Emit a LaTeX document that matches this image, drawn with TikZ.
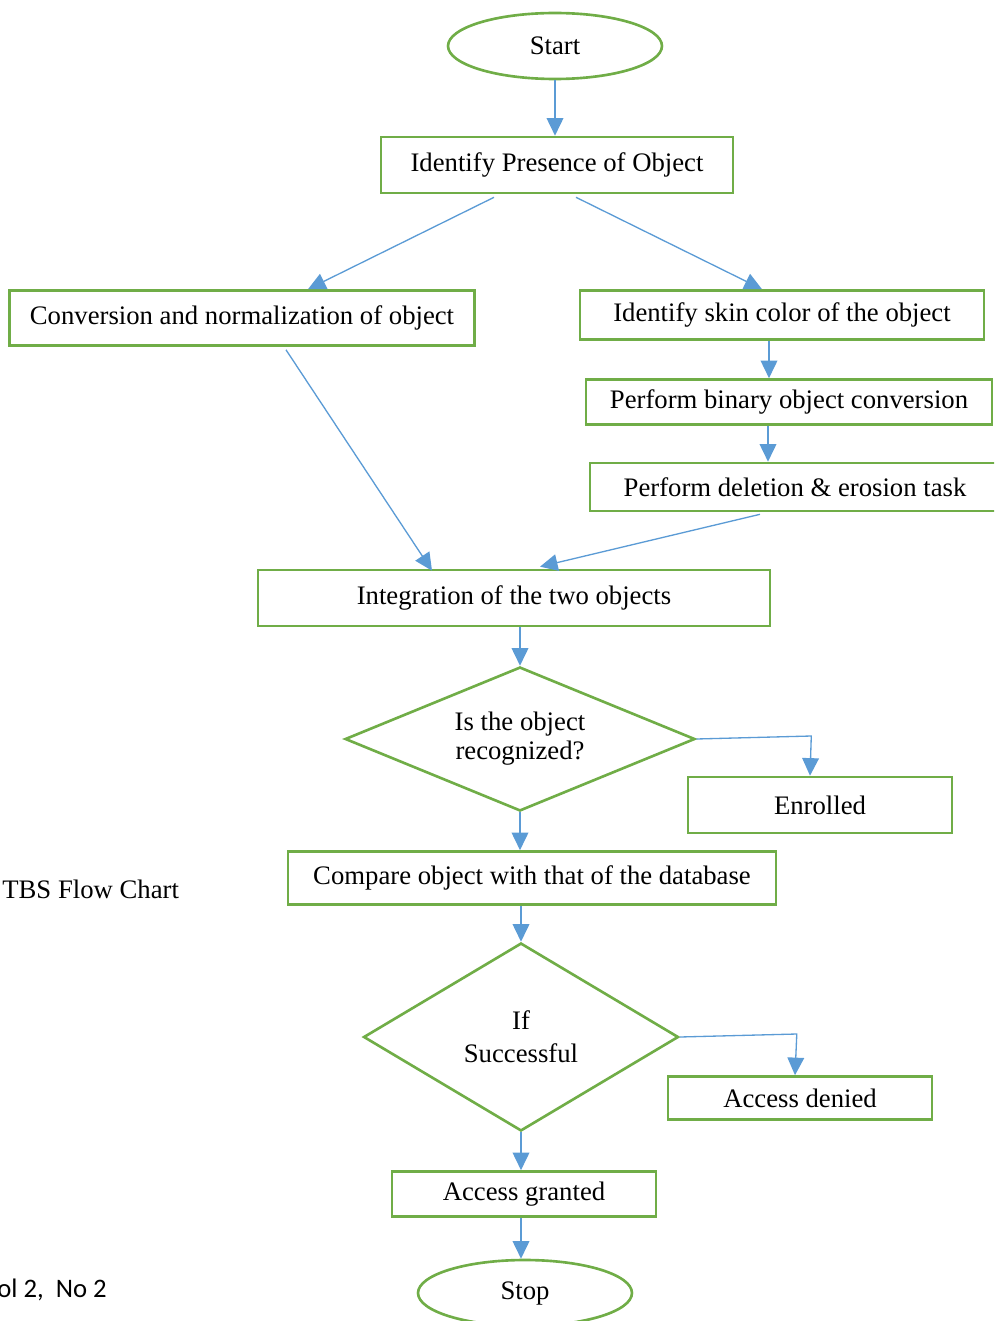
\documentclass[tikz,border=0pt]{standalone}
\usepackage{fontspec}
\setmainfont{Liberation Serif}
\newfontfamily\calibri{Carlito}
\usetikzlibrary{shapes.geometric,arrows.meta,calc}
\definecolor{vienxanh}{HTML}{70AD47}
\definecolor{muixanh}{HTML}{5B9BD5}
\begin{document}
\begin{tikzpicture}[x=0.02cm,y=-0.02cm,font=\fontsize{15.2}{16.4}\selectfont,
    hop/.style={draw=vienxanh,line width=1.5pt,inner sep=0pt},
    elip/.style={hop,ellipse,minimum width=4.28cm,minimum height=1.32cm},
    thoi/.style={hop,diamond,align=center},
    mui/.style={draw=muixanh,line width=0.75pt,-{Triangle[length=10pt,width=9.5pt]}}]
    \useasboundingbox (0,0) rectangle (994,1321);
    \clip (0,0) rectangle (994,1321);
    % cac khoi
    \node[elip] (start) at (555,46) {Start};
    \node[elip] (stop) at (525,1293) {Stop};
    \path
    foreach \ten/\x/\y/\w/\h/\t in {
        present/557/165/7.04/1.12/Identify Presence of Object,
        convert/242/318/9.3/1.1/Conversion and normalization of object,
        skin/782/315/8.08/0.98/Identify skin color of the object,
        binary/789/402/8.12/0.9/Perform binary object conversion,
        erosion/795/487/8.2/0.96/Perform deletion \& erosion task,
        integrate/514/598/10.24/1.12/Integration of the two objects,
        enrolled/820/805/5.28/1.12/Enrolled,
        compare/532/878/9.76/1.06/Compare object with that of the database,
        denied/800/1098/5.28/0.86/Access denied,
        granted/524/1194/5.28/0.9/Access granted}
    {(\x,\y) node[hop,minimum width=\w cm,minimum height=\h cm] (\ten) {\t}};
    \node[thoi,aspect=2.4,minimum width=7cm,minimum height=2.88cm] (hoi1) at (520,739) {Is the object\\recognized?};
    \node[thoi,aspect=1.68,minimum width=6.3cm,minimum height=3.76cm,font=\fontsize{15.2}{19}\selectfont] (hoi2) at (521,1037) {If\\Successful};
    % chu ben trai
    \node[anchor=west,inner sep=0pt] (tieude) at (2,889) {TBS Flow Chart};
    \node[anchor=west,inner sep=0pt,font=\calibri\fontsize{15.2}{17}\selectfont] (so) at (-3,1290) {ol 2,\ \ No 2};
    % mui ten
    \draw[mui] (start) -- (start |- present.north);
    \draw[mui] ($(present.south)+(-63,3)$) -- ($(convert.north)+(66,0)$);
    \draw[mui] ($(present.south)+(19,3)$) -- ($(skin.north)+(-20,0)$);
    \draw[mui] ($(skin.south)+(-13,0)$) -- ($(binary.north)+(-20,0)$);
    \draw[mui] ($(binary.south)+(-21,0)$) -- ($(erosion.north)+(-27,0)$);
    \draw[mui] ($(convert.south)+(44,3)$) -- ($(integrate.north)+(-82,2)$);
    \draw[mui] ($(erosion.south)+(-35,2)$) -- ($(integrate.north)+(26,-2)$);
    \draw[mui] (hoi1.north |- integrate.south) -- (hoi1.north);
    \draw[mui] (hoi1.south) -- (hoi1.south |- compare.north);
    \draw[mui] (hoi1.east) -- ++(115,-3) -- ($(enrolled.north)+(-10,0)$);
    \draw[mui] (hoi2.north |- compare.south) -- (hoi2.north);
    \draw[mui] (hoi2.east) -- ++(117,-3) -- ($(denied.north)+(-5,0)$);
    \draw[mui] (hoi2.south) -- (hoi2.south |- granted.north);
    \draw[mui] (hoi2.south |- granted.south) -- (hoi2.south |- stop.north);
\end{tikzpicture}
\end{document}
